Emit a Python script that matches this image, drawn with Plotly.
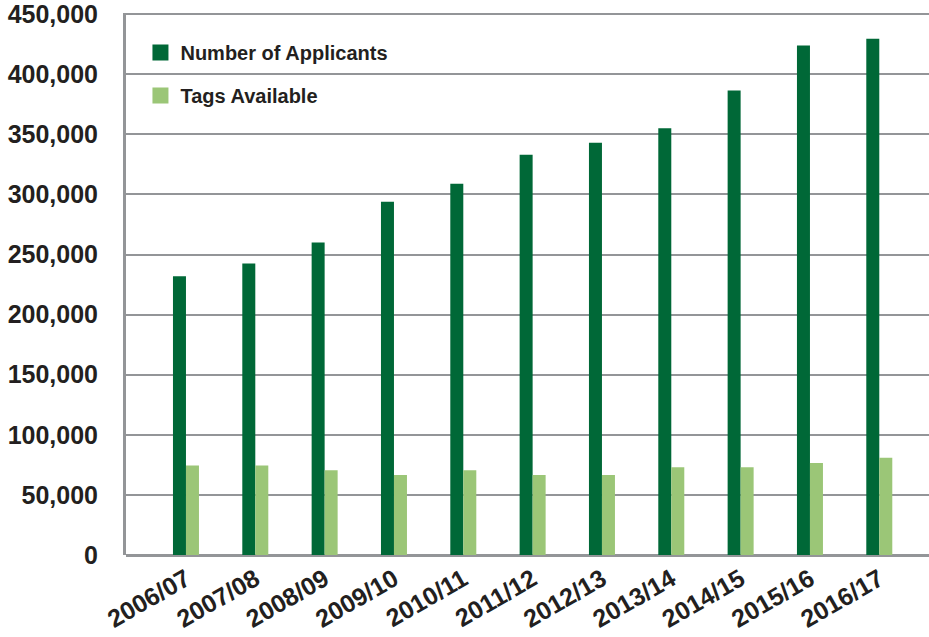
import plotly.graph_objects as go

# Hunting seasons and counts
seasons = ["2006/07", "2007/08", "2008/09", "2009/10", "2010/11", "2011/12",
           "2012/13", "2013/14", "2014/15", "2015/16", "2016/17"]
applicants = [232000, 242500, 260000, 294000, 309000, 333000,
              343000, 355000, 386500, 424000, 429500]
tags_available = [74500, 74500, 70500, 66500, 70500, 66500,
                  66500, 73000, 73000, 76500, 81000]
y_ticks = [0, 50000, 100000, 150000, 200000, 250000, 300000, 350000, 400000, 450000]
series_names = ["Number of Applicants", "Tags Available"]

DARK = "#006837"
LIGHT = "#9bc677"
GRID = "#939598"
TEXT = "#231f20"
FONT = "Liberation Sans"

fig = go.Figure()
fig.add_trace(go.Bar(x=seasons, y=applicants, name=series_names[0],
                     marker=dict(color=DARK, line=dict(width=0)),
                     showlegend=False))
fig.add_trace(go.Bar(x=seasons, y=tags_available, name=series_names[1],
                     marker=dict(color=LIGHT, line=dict(width=0)),
                     showlegend=False))

# Legend entries with larger square swatches
for name, color, grp in zip(series_names, [DARK, LIGHT], ["a", "b"]):
    fig.add_trace(go.Scatter(x=[None], y=[None], mode="markers", name=name,
                             marker=dict(symbol="square", size=16, color=color),
                             legendgroup=grp, hoverinfo="skip"))

fig.update_layout(
    width=929, height=637,
    margin=dict(l=126, r=0, t=13, b=82),
    paper_bgcolor="white", plot_bgcolor="white",
    barmode="group", bargap=0.625, bargroupgap=0,
    font=dict(family=FONT, color=TEXT),
    legend=dict(x=0.018, y=0.963, xanchor="left", yanchor="top",
                font=dict(family=FONT, size=20, color=TEXT, weight="bold"),
                tracegroupgap=14, bgcolor="rgba(0,0,0,0)", itemsizing="trace"),
    xaxis=dict(type="category", range=[-0.865, 10.717],
               showgrid=False, ticks="", tickangle=-30,
               ticklabelstandoff=4,
               tickfont=dict(family=FONT, size=25, color=TEXT, weight="bold"),
               showline=False),
    yaxis=dict(range=[0, 451000], tickvals=y_ticks, tickformat=",d",
               showgrid=True, gridcolor=GRID, gridwidth=2,
               zeroline=True, zerolinecolor=GRID, zerolinewidth=3,
               showline=True, linecolor=GRID, linewidth=3,
               ticks="", ticklabelstandoff=20, ticklabeloverflow="allow",
               tickfont=dict(family=FONT, size=25, color=TEXT, weight="bold")),
)

fig.write_html("out.html")
